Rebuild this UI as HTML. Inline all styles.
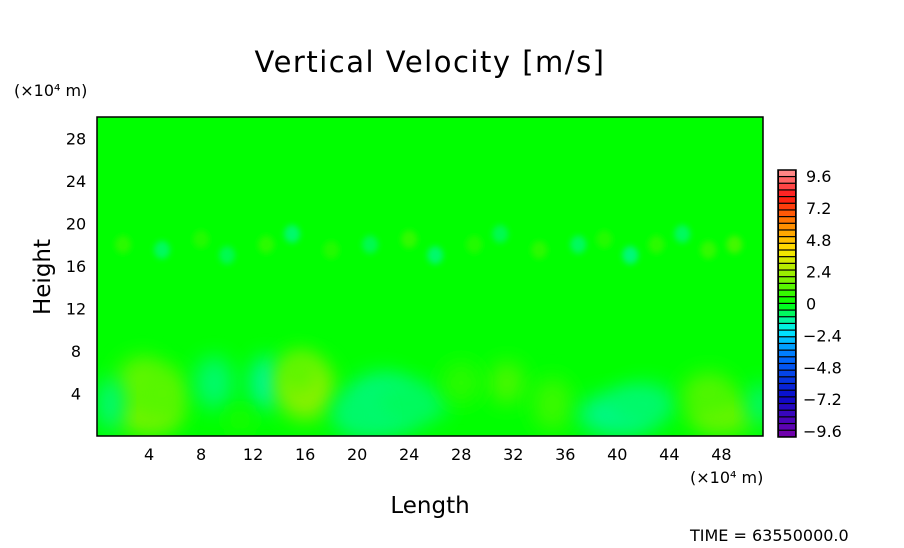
<!DOCTYPE html>
<html><head><meta charset="utf-8"><style>
body{margin:0;background:#fff;width:904px;height:544px;overflow:hidden;font-family:"DejaVu Sans","Liberation Sans",sans-serif}
svg text{font-family:"DejaVu Sans","Liberation Sans",sans-serif;fill:#000}
</style></head><body>
<svg id="chart" width="904" height="544" xmlns="http://www.w3.org/2000/svg">
<defs>
<filter id="blur" x="-50%" y="-50%" width="200%" height="200%"><feGaussianBlur stdDeviation="10"/></filter>
<filter id="blur2" x="-50%" y="-50%" width="200%" height="200%"><feGaussianBlur stdDeviation="3"/></filter>
<clipPath id="clip"><rect x="97" y="117" width="666" height="319"/></clipPath>
</defs>
<text x="430" y="72" font-size="29" text-anchor="middle" letter-spacing="1.5">Vertical Velocity [m/s]</text>
<text x="14" y="96" font-size="16">(×10⁴ m)</text>
<text x="690" y="483" font-size="16">(×10⁴ m)</text>
<text transform="translate(50,277) rotate(-90)" font-size="23" text-anchor="middle">Height</text>
<text x="430" y="513" font-size="23" text-anchor="middle">Length</text>
<text x="690" y="541" font-size="16">TIME = 63550000.0</text>
<g id="plot" clip-path="url(#clip)"></g>
<rect x="97" y="117" width="666" height="319" fill="none" stroke="#000" stroke-width="1.5"/>
<g id="xt"></g>
<g id="yt"></g>
<g id="cb"></g>
</svg>
<script>
const xTicks=[4,8,12,16,20,24,28,32,36,40,44,48];
const yTicks=[4,8,12,16,20,24,28];
const cbLabels=[9.6,7.2,4.8,2.4,0,-2.4,-4.8,-7.2,-9.6];
// blobs: center x, center y (1e4 m), radius x, radius y, velocity value
const blobX=[4,3.5,5,9,13,16,15.5,22,24,20,31.5,35,40,42,48,47,1,11,28,51];
const blobY=[2,5,4,5,5,4.5,6,3,3,2,5,3,2,3,2,4,3,1.5,5,3];
const blobRX=[2.5,2,2,1.5,1.3,2.2,1.5,3,3,2,1.4,1.5,3,2.5,2.5,2,1,1,1.5,1];
const blobRY=[2,2.5,2.5,2.5,2.5,3,2,3,2,2,2,2.5,2,2,2,2,2.5,1,2,2];
const blobV=[1.6,1.3,1.2,-0.8,-1.1,1.9,1.3,-0.9,-0.7,-0.8,1.0,0.8,-1.0,-0.8,1.4,1.1,-0.9,0.5,0.6,-0.8];
// upper band small features (near 18-20)
const bandX=[2,5,8,10,13,15,18,21,24,26,29,31,34,37,39,41,43,45,47,49];
const bandY=[18,17.5,18.5,17,18,19,17.5,18,18.5,17,18,19,17.5,18,18.5,17,18,19,17.5,18];
const bandV=[0.6,-0.7,0.5,-0.6,0.6,-0.8,0.5,-0.6,0.7,-0.8,0.5,-0.6,0.6,-0.7,0.5,-0.9,0.6,-0.7,0.7,0.9];
const vmin=-9.6,vmax=9.6,nLevels=40;
const X0=97,X1=763,XMAX=51.2,Y0=436,Y1=117,YMAX=30;
const sx=v=>X0+(v/XMAX)*(X1-X0);
const sy=v=>Y0-(v/YMAX)*(Y0-Y1);
const ns="http://www.w3.org/2000/svg";
function color(v){
  const t=(v-vmin)/(vmax-vmin);
  const stops=[[0,[120,0,170]],[0.15,[10,10,200]],[0.3,[0,110,255]],[0.4,[0,240,255]],[0.5,[0,255,0]],[0.6,[140,240,0]],[0.7,[255,230,0]],[0.8,[255,130,0]],[0.9,[255,20,20]],[1,[255,150,150]]];
  for(let i=1;i<stops.length;i++){if(t<=stops[i][0]){const a=stops[i-1],b=stops[i],f=(t-a[0])/(b[0]-a[0]);return 'rgb('+a[1].map((c,k)=>Math.round(c+(b[1][k]-c)*f)).join(',')+')';}}
  return 'rgb(255,150,150)';
}
const plot=document.getElementById('plot');
const bg=document.createElementNS(ns,'rect');


bg.setAttribute('x',X0);bg.setAttribute('y',Y1);bg.setAttribute('width',X1-X0);bg.setAttribute('height',Y0-Y1);bg.setAttribute('fill',color(0));
plot.appendChild(bg);
for(let i=0;i<blobX.length;i++){
  const e=document.createElementNS(ns,'ellipse');
  
  
  e.setAttribute('cx',sx(blobX[i]));e.setAttribute('cy',sy(blobY[i]));
  e.setAttribute('rx',blobRX[i]*13);e.setAttribute('ry',blobRY[i]*10.6);
  e.setAttribute('fill',color(blobV[i]));e.setAttribute('filter','url(#blur)');
  plot.appendChild(e);
}
for(let i=0;i<bandX.length;i++){
  const e=document.createElementNS(ns,'ellipse');
  
  
  e.setAttribute('cx',sx(bandX[i]));e.setAttribute('cy',sy(bandY[i]));
  e.setAttribute('rx',8);e.setAttribute('ry',9);
  e.setAttribute('fill',color(bandV[i]));e.setAttribute('filter','url(#blur2)');
  plot.appendChild(e);
}
const xt=document.getElementById('xt');
xTicks.forEach(v=>{const t=document.createElementNS(ns,'text');
  
  
  t.setAttribute('x',sx(v));t.setAttribute('y',460);t.setAttribute('font-size','16');t.setAttribute('text-anchor','middle');t.textContent=v;xt.appendChild(t);});
const yt=document.getElementById('yt');
yTicks.forEach(v=>{const t=document.createElementNS(ns,'text');
  
  
  t.setAttribute('x',76);t.setAttribute('y',sy(v)+6);t.setAttribute('font-size','16');t.setAttribute('text-anchor','middle');t.textContent=v;yt.appendChild(t);});
const cb=document.getElementById('cb');
const CT=170,CB=437,CX=778,CW=18,bh=(CB-CT)/nLevels;
const cbg=document.createElementNS(ns,'rect');


cbg.setAttribute('x',CX);cbg.setAttribute('y',CT);cbg.setAttribute('width',CW);cbg.setAttribute('height',CB-CT);cbg.setAttribute('fill','#000');cb.appendChild(cbg);
for(let i=0;i<nLevels;i++){
  const v=vmax-(i+0.5)*(vmax-vmin)/nLevels;
  const r=document.createElementNS(ns,'rect');
  
  
  r.setAttribute('x',CX+1);r.setAttribute('y',CT+i*bh+0.5);r.setAttribute('width',CW-2);r.setAttribute('height',bh-1.2);r.setAttribute('fill',color(v));cb.appendChild(r);
}
const fr=document.createElementNS(ns,'rect');


fr.setAttribute('x',CX);fr.setAttribute('y',CT);fr.setAttribute('width',CW);fr.setAttribute('height',CB-CT);fr.setAttribute('fill','none');fr.setAttribute('stroke','#000');fr.setAttribute('stroke-width','1.5');cb.appendChild(fr);
cbLabels.forEach(v=>{const t=document.createElementNS(ns,'text');
  
  
  const y=176+(vmax-v)/(vmax-vmin)*(431-176);
  t.setAttribute('x',v<0?803:806);t.setAttribute('y',y+6);t.setAttribute('font-size','16');t.textContent=(v<0?'\u2212'+Math.abs(v):String(v));cb.appendChild(t);});
</script>
</body></html>
